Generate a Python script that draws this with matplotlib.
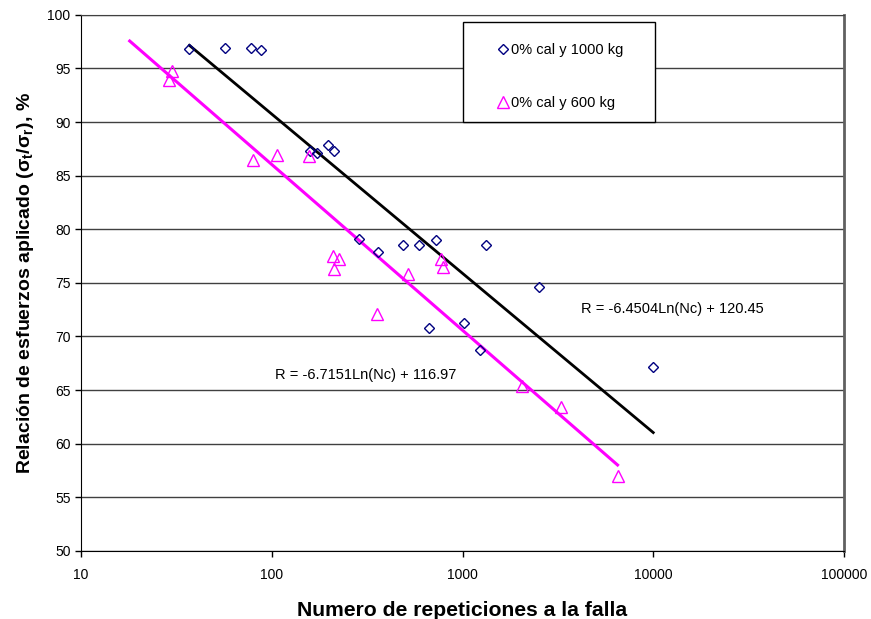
import numpy as np
import matplotlib
matplotlib.use("Agg")
import matplotlib.pyplot as plt
from matplotlib.patches import Rectangle

plt.rcParams['font.family'] = ['Liberation Sans', 'DejaVu Sans']
plt.rcParams['mathtext.fontset'] = 'custom'
plt.rcParams['mathtext.rm'] = 'Liberation Sans'
plt.rcParams['mathtext.bf'] = 'Liberation Sans:bold'

# 0% cal, 1000 kg
n_1000 = [37, 57, 78, 88, 159, 173, 198, 213, 288, 362, 490, 594, 722, 1321,
          664, 1024, 1228, 2505, 10000]
r_1000 = [96.8, 96.9, 96.9, 96.7, 87.3, 87.1, 87.9, 87.3, 79.1, 77.9, 78.5, 78.5,
          79.0, 78.5, 70.8, 71.3, 68.7, 74.6, 67.2]

# 0% cal, 600 kg
n_600 = [30, 29, 80, 106, 157, 210, 226, 213, 358, 520, 767, 794, 2042, 3266, 6514]
r_600 = [94.8, 93.9, 86.5, 86.9, 86.8, 77.5, 77.2, 76.3, 72.1, 75.8, 77.2, 76.5,
         65.4, 63.4, 57.0]

# logarithmic trendlines R = a*ln(Nc) + b
fit_1000 = (-6.4504, 120.45)
fit_600 = (-6.7151, 116.97)
span_1000 = (37, 10000)
span_600 = (18, 6500)

fig = plt.figure(figsize=(8.71, 6.19), dpi=100)
ax = fig.add_axes([0.093, 0.110, 0.876, 0.866])

for (a, b), (lo, hi), col in [(fit_1000, span_1000, 'black'),
                              (fit_600, span_600, '#ff00ff')]:
    xs = np.geomspace(lo, hi, 50)
    ax.plot(xs, a * np.log(xs) + b, color=col, lw=2.0 if col == 'black' else 2.2,
            zorder=2)

ax.plot(n_1000, r_1000, linestyle='none', marker='D', markersize=5.5,
        markerfacecolor='none', markeredgecolor='#000080', markeredgewidth=1.0,
        label='0% cal y 1000 kg', zorder=3)
ax.plot(n_600, r_600, linestyle='none', marker='^', markersize=8,
        markerfacecolor='none', markeredgecolor='#ff00ff', markeredgewidth=1.0,
        label='0% cal y 600 kg', zorder=3)

ax.text(4160, 72.6, 'R = -6.4504Ln(Nc) + 120.45', fontsize=10.5, va='center')
ax.text(104, 66.4, 'R = -6.7151Ln(Nc) + 116.97', fontsize=10.5, va='center')

ax.set_xscale('log')
ax.set_xlim(10, 100000)
ax.set_ylim(50, 100)
ax.set_xticks([10, 100, 1000, 10000, 100000])
ax.set_xticklabels(['10', '100', '1000', '10000', '100000'])
ax.xaxis.set_minor_locator(matplotlib.ticker.NullLocator())
ax.set_yticks(np.arange(50, 101, 5))
ax.tick_params(labelsize=10, direction='out', length=4, width=1, color='black')
ax.tick_params(axis='x', pad=8)

ax.yaxis.grid(True, color='#404040', lw=1.0)
ax.set_axisbelow(True)
ax.spines['left'].set_color('black')
ax.spines['bottom'].set_color('black')
ax.spines['top'].set_color('#404040')
ax.spines['right'].set_color('#606060')
ax.spines['right'].set_linewidth(2)

ax.set_xlabel('Numero de repeticiones a la falla', fontsize=15.2, fontweight='bold',
              labelpad=14)
ax.set_ylabel(r'Relación de esfuerzos aplicado (σ$_\mathbf{t}$/σ$_\mathbf{r}$), %',
              fontsize=14, fontweight='bold', labelpad=8)

# legend box drawn separately so its padding can differ per side
ax.add_patch(Rectangle((0.5007, 0.800), 0.2513, 0.187, transform=ax.transAxes,
                       facecolor='white', edgecolor='black', lw=1.0, zorder=4))
leg = ax.legend(loc='center left', bbox_to_anchor=(0.544, 0.885), fontsize=10.5,
                frameon=False, borderpad=0, labelspacing=2.7, handletextpad=0.05,
                handlelength=1.0, borderaxespad=0)
leg.set_zorder(5)

fig.savefig('out.png', dpi=100)
